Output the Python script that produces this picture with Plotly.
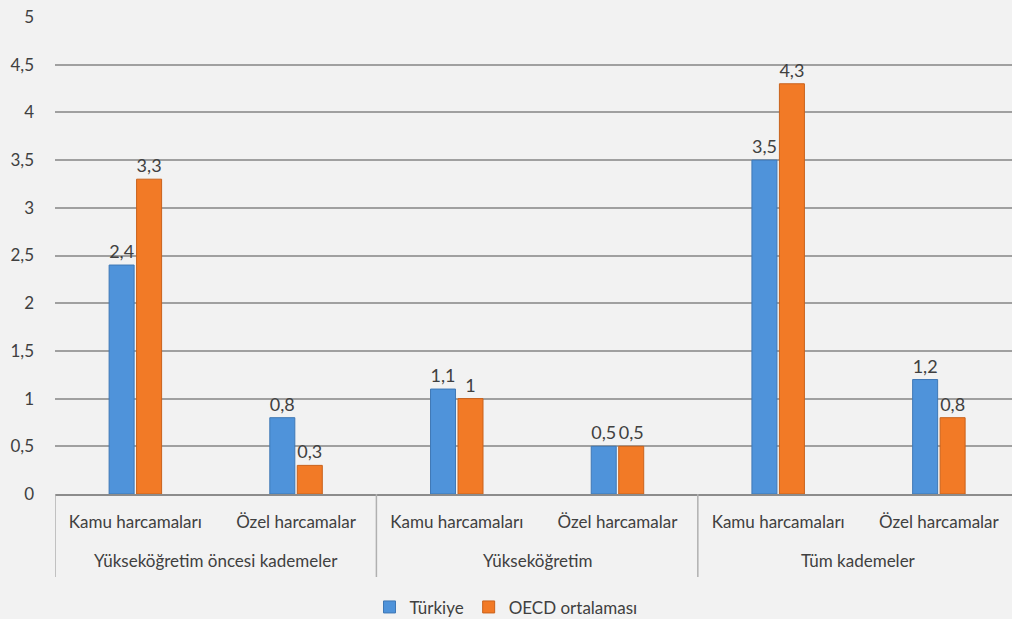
import plotly.graph_objects as go

groups = ["Yükseköğretim öncesi kademeler", "Yükseköğretim", "Tüm kademeler"]
subcats = ["Kamu harcamaları", "Özel harcamalar"]
turkiye = [2.4, 0.8, 1.1, 0.5, 3.5, 1.2]
oecd = [3.3, 0.3, 1.0, 0.5, 4.3, 0.8]
series_names = ["Türkiye", "OECD ortalaması"]
y_ticks = [0, 0.5, 1, 1.5, 2, 2.5, 3, 3.5, 4, 4.5, 5]

inner_labels = [s for _ in groups for s in subcats]
xpos = list(range(len(inner_labels)))

font_family = "Lato, Open Sans, sans-serif"
txt_color = "#404040"
bg = "#f2f2f2"

fig = go.Figure()
for name, vals, color, line in [
    (series_names[0], turkiye, "#4F93DA", "#3f78b5"),
    (series_names[1], oecd, "#F27A26", "#c9621c"),
]:
    fig.add_trace(go.Bar(
        x=xpos, y=vals, name=name,
        marker=dict(color=color, line=dict(color=line, width=1)),
        text=[f"{v:g}".replace(".", ",") for v in vals],
        textposition="outside", cliponaxis=False,
        textfont=dict(size=18, color=txt_color, family=font_family),
    ))

n_sub = len(subcats)
# group labels and dividers
for gi, g in enumerate(groups):
    center = gi * n_sub + (n_sub - 1) / 2
    fig.add_annotation(x=center, xref="x", y=-0.14, yref="paper", text=g,
                       showarrow=False, yanchor="middle",
                       font=dict(size=17, color=txt_color, family=font_family))
for b in range(len(groups) + 1):
    fig.add_shape(type="line", xref="x", yref="paper",
                  x0=b * n_sub - 0.5, x1=b * n_sub - 0.5, y0=0, y1=-0.174,
                  line=dict(color="#b0b0b0", width=1.5))

fig.update_layout(
    width=1012, height=619,
    paper_bgcolor=bg, plot_bgcolor=bg,
    margin=dict(l=55, r=0, t=17, b=125, autoexpand=False),
    barmode="group", bargap=0.658, bargroupgap=0.09,
    separators=",.",
    font=dict(family=font_family, size=17, color=txt_color),
    showlegend=True,
    legend=dict(orientation="h", xref="container", x=0.5, xanchor="center",
                y=-0.2, yanchor="top",
                font=dict(size=17, color=txt_color), itemwidth=30,
                bgcolor="rgba(0,0,0,0)"),
    xaxis=dict(
        range=[-0.5, 5.455], tickvals=xpos, ticktext=inner_labels,
        showgrid=False, showline=True, linecolor="#8c8c8c", linewidth=1.5,
        zeroline=False, ticks="", tickfont=dict(size=17, color=txt_color),
        ticklabelstandoff=12,
    ),
    yaxis=dict(
        range=[0, 5], tickvals=y_ticks, showgrid=True, gridcolor="#a0a0a0", gridwidth=1.8,
        zeroline=False, ticks="", tickfont=dict(size=17, color=txt_color),
        ticklabelstandoff=20,
    ),
)

fig.write_html(
    "out.html",
    config={"displayModeBar": False},
    post_script="document.body.style.margin='0';document.body.style.background='#f2f2f2';",
)
